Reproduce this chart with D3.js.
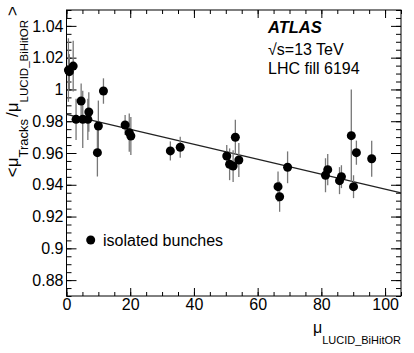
<!DOCTYPE html>
<html>
<head>
<meta charset="utf-8">
<script src="https://cdn.jsdelivr.net/npm/d3@7"></script>
<style>
  body { margin: 0; background: #fff; }
  svg { font-family: "Liberation Sans", Arial, sans-serif; }
</style>
</head>
<body>
<div id="chart"></div>
<script>
// isolated bunches, LHC fill 6194
const muLucid = [0.6, 0.9, 2.1, 3.0, 4.6, 5.1, 6.7, 7.0, 9.7, 10.0, 11.6, 18.4, 19.7, 20.2,
  32.6, 35.7, 50.3, 51.2, 52.3, 53.0, 54.1, 66.4, 66.9, 69.4, 81.3, 82.0, 85.7, 86.3,
  89.4, 90.1, 91.0, 95.8];
const ratio = [1.0122, 1.0112, 1.0147, 0.9812, 0.9927, 0.9812, 0.9812, 0.9858, 0.9602, 0.977,
  0.999, 0.9776, 0.9728, 0.9707, 0.9613, 0.9636, 0.9581, 0.9529, 0.9518, 0.9699, 0.9556,
  0.9388, 0.9325, 0.951, 0.946, 0.9495, 0.9426, 0.9451, 0.9709, 0.9388, 0.9602, 0.9564];
const ratioErr = [0.020, 0.011, 0.016, 0.013, 0.011, 0.018, 0.013, 0.0125, 0.015, 0.016,
  0.008, 0.0063, 0.012, 0.012, 0.006, 0.0066, 0.007, 0.010, 0.010, 0.011, 0.0107,
  0.0095, 0.0095, 0.010, 0.0107, 0.0098, 0.0085, 0.0072, 0.029, 0.0072, 0.0076, 0.0113];

// linear fit
const fitIntercept = 0.9843;
const fitSlope = -0.00047;

const xTicks = [0, 20, 40, 60, 80, 100];
const yTicks = [0.88, 0.9, 0.92, 0.94, 0.96, 0.98, 1, 1.02, 1.04];

const width = 414, height = 353;
const padL = 66.5, padR = 401, padT = 10, padB = 296;

const svg = d3.select("#chart").append("svg")
    .attr("width", width)
    .attr("height", height);

const x = d3.scaleLinear().domain([0, 105]).range([padL, padR]);
const y = d3.scaleLinear().domain([0.87, 1.05]).range([padB, padT]);

const xMinor = d3.range(0, 106, 5);
const yMinor = d3.range(0, 37).map(i => +(0.87 + i * 0.005).toFixed(3));

// axes, ticks pointing inside the frame
function styleAxis(g) {
  g.select(".domain").remove();
  g.selectAll(".tick line").attr("stroke", "#000");
  g.selectAll(".tick text").attr("fill", "#000").style("font-size", "16px");
}

svg.append("g").attr("transform", `translate(0,${padB})`)
    .call(d3.axisBottom(x).tickValues(xMinor).tickSize(-4).tickFormat(""))
    .call(styleAxis);
svg.append("g").attr("transform", `translate(0,${padB})`)
    .call(d3.axisBottom(x).tickValues(xTicks).tickSize(-8).tickPadding(3))
    .call(styleAxis);
svg.append("g").attr("transform", `translate(0,${padT})`)
    .call(d3.axisTop(x).tickValues(xMinor).tickSize(-4).tickFormat(""))
    .call(styleAxis);
svg.append("g").attr("transform", `translate(0,${padT})`)
    .call(d3.axisTop(x).tickValues(xTicks).tickSize(-8).tickFormat(""))
    .call(styleAxis);

svg.append("g").attr("transform", `translate(${padL},0)`)
    .call(d3.axisLeft(y).tickValues(yMinor).tickSize(-5).tickFormat(""))
    .call(styleAxis);
svg.append("g").attr("transform", `translate(${padL},0)`)
    .call(d3.axisLeft(y).tickValues(yTicks).tickSize(-10).tickPadding(3)
      .tickFormat(d => String(+d.toFixed(2))))
    .call(styleAxis);
svg.append("g").attr("transform", `translate(${padR},0)`)
    .call(d3.axisRight(y).tickValues(yMinor).tickSize(-5).tickFormat(""))
    .call(styleAxis);
svg.append("g").attr("transform", `translate(${padR},0)`)
    .call(d3.axisRight(y).tickValues(yTicks).tickSize(-10).tickFormat(""))
    .call(styleAxis);

svg.append("rect")
    .attr("x", padL).attr("y", padT)
    .attr("width", padR - padL).attr("height", padB - padT)
    .attr("fill", "none")
    .attr("stroke", "#000");

// fit line
const fitLine = d3.line().x(d => x(d)).y(d => y(fitIntercept + fitSlope * d));
svg.append("path")
    .datum(x.domain())
    .attr("d", fitLine)
    .attr("fill", "none")
    .attr("stroke", "#222")
    .attr("stroke-width", 1.2);

// points with error bars
const points = muLucid.map((m, i) => ({ mu: m, r: ratio[i], e: ratioErr[i] }));

svg.append("g")
    .selectAll("line")
    .data(points)
    .join("line")
    .attr("x1", d => x(d.mu)).attr("x2", d => x(d.mu))
    .attr("y1", d => y(d.r - d.e)).attr("y2", d => y(d.r + d.e))
    .attr("stroke", "#777")
    .attr("stroke-width", 1.3);

svg.append("g")
    .selectAll("circle")
    .data(points)
    .join("circle")
    .attr("cx", d => x(d.mu))
    .attr("cy", d => y(d.r))
    .attr("r", 4.5)
    .attr("fill", "#000");

// legend
svg.append("circle").attr("cx", 90.7).attr("cy", 240).attr("r", 4.5).attr("fill", "#000");
svg.append("text").attr("x", 103).attr("y", 246)
    .style("font-size", "16px").text("isolated bunches");

// labels
svg.append("text").attr("x", 268).attr("y", 33)
    .style("font-size", "16.5px").style("font-weight", "bold").style("font-style", "italic")
    .text("ATLAS");
svg.append("text").attr("x", 268).attr("y", 55)
    .style("font-size", "16px").text("√s=13 TeV");
svg.append("text").attr("x", 268).attr("y", 74)
    .style("font-size", "16px").text("LHC fill 6194");

// x title
const xt = svg.append("text")
    .attr("x", padR).attr("y", 333)
    .attr("text-anchor", "end")
    .style("font-size", "16px");
xt.append("tspan").text("μ");
xt.append("tspan").attr("dy", 11).style("font-size", "11px").text("LUCID_BiHitOR");

// y title
const yt = svg.append("text")
    .attr("transform", "translate(18,6) rotate(-90)")
    .attr("text-anchor", "end")
    .style("font-size", "17px");
yt.append("tspan").text("<μ");
yt.append("tspan").attr("dy", 10).style("font-size", "13px").text("Tracks");
yt.append("tspan").attr("dy", -10).attr("dx", 2).text("/μ");
yt.append("tspan").attr("dy", 10).style("font-size", "11.5px").text("LUCID_BiHitOR");
yt.append("tspan").attr("dy", -10).attr("dx", 4).text(">");
</script>
</body>
</html>
